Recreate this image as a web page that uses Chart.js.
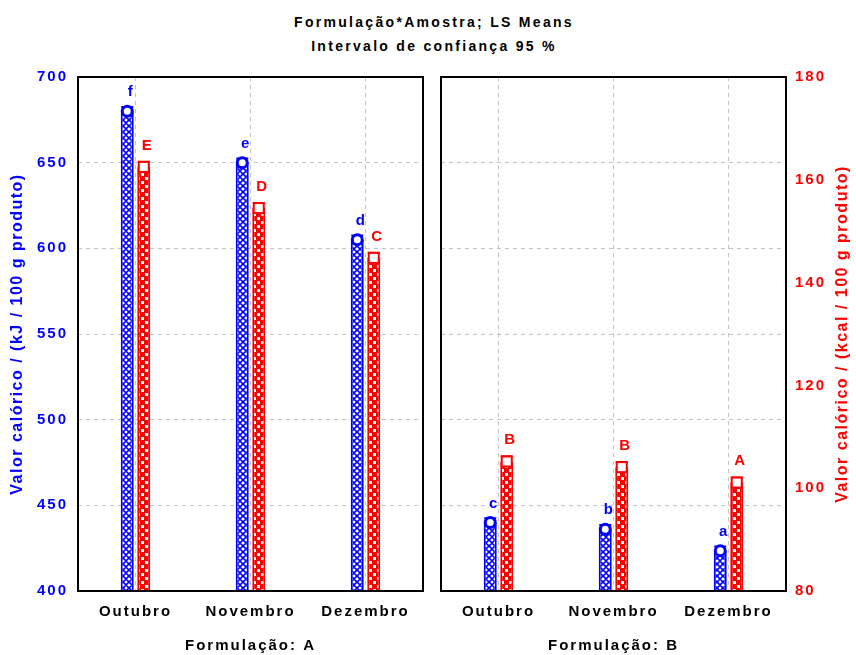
<!DOCTYPE html>
<html>
<head>
<meta charset="utf-8">
<script src="https://cdn.jsdelivr.net/npm/chart.js@4.4.1/dist/chart.umd.min.js"></script>
<style>
  body { margin: 0; background: #fff; width: 856px; height: 655px; position: relative; overflow: hidden; font-family: "Liberation Sans", Arial, sans-serif; }
  #title { position: absolute; left: 0; width: 868px; top: 10px; text-align: center; font-weight: bold; font-size: 14px; line-height: 24px; letter-spacing: 2.3px; color: #000; }
  #left { position: absolute; left: 0; top: 0; }
  #right { position: absolute; left: 432px; top: 0; }
</style>
</head>
<body>
<div id="title">Formulação*Amostra; LS Means<br>Intervalo de confiança 95 %</div>
<canvas id="left" width="432" height="655"></canvas>
<canvas id="right" width="424" height="655"></canvas>
<script>
const months = ["Outubro", "Novembro", "Dezembro"];

// Formulação A
const kjA = [680, 650, 605];
const kcalA = [162.5, 154.5, 144.8];
const errKjA = [2.5, 2.5, 2.5];
const errKcalA = [1.0, 1.0, 1.0];
const lettersKjA = ["f", "e", "d"];
const lettersKcalA = ["E", "D", "C"];

// Formulação B
const kjB = [440, 436, 423.5];
const kcalB = [105.2, 104.1, 101.1];
const errKjB = [2.5, 2.5, 2.5];
const errKcalB = [1.0, 1.0, 1.0];
const lettersKjB = ["c", "b", "a"];
const lettersKcalB = ["B", "B", "A"];

const kjRange = [400, 700, 50];
const kcalRange = [80, 180, 20];

const BLUE = "#0000ff";
const RED = "#ff0000";
const FONT = '"Liberation Sans", Arial, sans-serif';

function bluePattern() {
  const c = document.createElement("canvas");
  c.width = 6; c.height = 6;
  const g = c.getContext("2d");
  g.fillStyle = "#fff"; g.fillRect(0, 0, 6, 6);
  g.strokeStyle = BLUE; g.lineWidth = 1.7;
  g.beginPath();
  g.moveTo(3, 0); g.lineTo(6, 3); g.lineTo(3, 6); g.lineTo(0, 3); g.closePath();
  g.stroke();
  return g.createPattern(c, "repeat");
}
function redPattern() {
  const c = document.createElement("canvas");
  c.width = 8; c.height = 8;
  const g = c.getContext("2d");
  g.fillStyle = RED; g.fillRect(0, 0, 8, 8);
  g.fillStyle = "#fff";
  g.fillRect(1, 1, 3, 3);
  g.fillRect(5, 5, 3, 3);
  return g.createPattern(c, "repeat");
}

const spacing = {
  id: "spacing",
  beforeLayout(chart) { chart.ctx.letterSpacing = "2px"; },
  beforeDraw(chart) { chart.ctx.letterSpacing = "2px"; }
};

const marks = {
  id: "marks",
  afterDatasetsDraw(chart) {
    const ctx = chart.ctx;
    chart.data.datasets.forEach((ds, i) => {
      const meta = chart.getDatasetMeta(i);
      const ys = chart.scales[meta.yAxisID];
      meta.data.forEach((el, j) => {
        const v = ds.data[j];
        const x = el.x;
        const y = ys.getPixelForValue(v);
        const yt = ys.getPixelForValue(v + ds.err[j]);
        const yb = ys.getPixelForValue(v - ds.err[j]);
        ctx.save();
        ctx.strokeStyle = ds.borderColor;
        ctx.lineWidth = 2;
        ctx.beginPath();
        ctx.moveTo(x, yb); ctx.lineTo(x, yt);
        ctx.moveTo(x - 6, yt); ctx.lineTo(x + 6, yt);
        ctx.stroke();
        let top;
        if (ds.marker === "circle") {
          ctx.beginPath();
          ctx.arc(x, y, 5, 0, Math.PI * 2);
          ctx.fillStyle = "#fff"; ctx.fill();
          ctx.lineWidth = 3; ctx.stroke();
          top = Math.min(yt, y - 6.5) - 5;
        } else {
          ctx.fillStyle = "#fff";
          ctx.fillRect(x - 5, y - 5, 10, 10);
          ctx.lineWidth = 2;
          ctx.strokeRect(x - 5, y - 5, 10, 10);
          top = Math.min(yt, y - 6) - 8;
        }
        ctx.letterSpacing = "0px";
        ctx.fillStyle = ds.borderColor;
        ctx.font = "bold 15px " + FONT;
        ctx.textAlign = "center";
        ctx.textBaseline = "bottom";
        ctx.fillText(ds.letters[j], x + 3, top);
        ctx.restore();
      });
    });
    // frame
    const a = chart.chartArea;
    ctx.save();
    ctx.strokeStyle = "#000";
    ctx.lineWidth = 2;
    ctx.strokeRect(a.left, a.top, a.right - a.left, a.bottom - a.top);
    ctx.restore();
  },
  afterDraw(chart) {
    const o = chart.options.plugins.sideTitle;
    if (!o) return;
    const ctx = chart.ctx;
    ctx.save();
    ctx.letterSpacing = "1.5px";
    ctx.translate(o.x, o.y);
    ctx.rotate(-Math.PI / 2);
    ctx.fillStyle = o.color;
    ctx.font = "bold 16px " + FONT;
    ctx.textAlign = "center";
    ctx.textBaseline = "middle";
    ctx.fillText(o.text, 0, 0);
    ctx.restore();
  }
};

function makeChart(id, kj, kcal, errKj, errKcal, lKj, lKcal, side, xTitle) {
  const grid = { color: "#c4c4c4", lineWidth: 1, drawTicks: false };
  const dash = { display: false, dash: [4, 4] };
  const tickFont = { family: FONT, size: 15, weight: "bold" };
  const kjScale = {
    type: "linear", position: "left",
    min: kjRange[0], max: kjRange[1],
    grid: grid, border: dash,
    ticks: { stepSize: kjRange[2], color: BLUE, font: tickFont, padding: 10, display: side === "left" },
    afterFit(s) { s.width = side === "left" ? 78 : 9; }
  };
  const kcalScale = {
    type: "linear", position: "right",
    min: kcalRange[0], max: kcalRange[1],
    display: side === "right",
    grid: { drawOnChartArea: false, drawTicks: false }, border: { display: false },
    ticks: { stepSize: kcalRange[2], color: RED, font: tickFont, padding: 9 },
    afterFit(s) { s.width = side === "right" ? 70 : 0; }
  };
  return new Chart(document.getElementById(id), {
    type: "bar",
    data: {
      labels: months,
      datasets: [
        { data: kj, yAxisID: "y", base: kjRange[0], backgroundColor: bluePattern(), borderColor: BLUE,
          borderWidth: 2, err: errKj, letters: lKj, marker: "circle" },
        { data: kcal, yAxisID: "y2", base: kcalRange[0], backgroundColor: redPattern(), borderColor: RED,
          borderWidth: 2, err: errKcal, letters: lKcal, marker: "square" }
      ]
    },
    options: {
      responsive: false,
      animation: false,
      categoryPercentage: 0.287,
      barPercentage: 0.79,
      layout: { padding: { top: 77, right: side === "left" ? 9 : 0, left: 0, bottom: 0 } },
      plugins: {
        legend: { display: false },
        tooltip: { enabled: false },
        sideTitle: side === "left"
          ? { text: "Valor calórico / (kJ / 100 g produto)", x: 18, y: 334, color: BLUE }
          : { text: "Valor calórico / (kcal / 100 g produto)", x: 843 - 432, y: 334, color: RED }
      },
      scales: {
        x: {
          grid: Object.assign({ offset: false }, grid), border: dash,
          ticks: { color: "#000", font: tickFont, padding: 12, maxRotation: 0, autoSkip: false },
          title: { display: true, text: xTitle, color: "#000", font: tickFont, padding: { top: 0, bottom: 0 } },
          afterFit(s) { s.height = 64; }
        },
        y: kjScale,
        y2: kcalScale
      }
    },
    plugins: [spacing, marks]
  });
}

makeChart("left", kjA, kcalA, errKjA, errKcalA, lettersKjA, lettersKcalA, "left", "Formulação: A");
makeChart("right", kjB, kcalB, errKjB, errKcalB, lettersKjB, lettersKcalB, "right", "Formulação: B");
</script>
</body>
</html>
